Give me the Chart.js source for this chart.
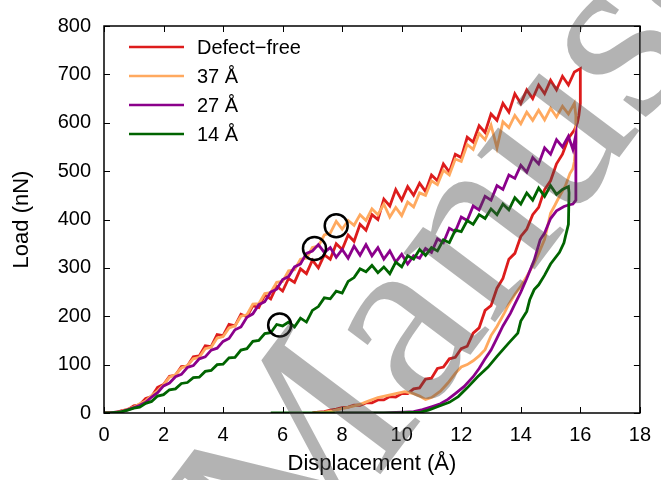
<!DOCTYPE html>
<html>
<head>
<meta charset="utf-8">
<script src="https://cdn.jsdelivr.net/npm/chart.js@4.4.0/dist/chart.umd.min.js"></script>
<style>body{margin:0;background:#fff}</style>
</head>
<body>
<canvas id="chart" width="661" height="480"></canvas>
<script>
// loading branch, common displacement grid (Å)
const xLoad = [0,0.2,0.4,0.6,0.8,1,1.2,1.4,1.6,1.8,2,2.2,2.4,2.6,2.8,3,3.2,3.4,3.6,3.8,4,4.2,4.4,4.6,4.8,5,5.2,5.4,5.6,5.8,6,6.2,6.4,6.6,6.8,7,7.2,7.4,7.6,7.8,8,8.2,8.4,8.6,8.8,9,9.2,9.4,9.6,9.8,10,10.2,10.4,10.6,10.8,11,11.2,11.4,11.6,11.8,12,12.2,12.4,12.6,12.8,13,13.2,13.4,13.6,13.8,14,14.2,14.4,14.6,14.8,15,15.2,15.4,15.6];

const redLoad = [0,1,1,5,7,15,17,30,34,53,59,76,78,96,97,116,118,139,137,162,160,183,180,204,199,222,218,244,236,262,252,278,270,298,288,316,300,327,318,350,338,368,355,390,378,410,400,442,428,462,440,468,450,475,458,492,480,515,498,535,528,570,560,594,580,618,605,640,622,660,640,668,650,678,660,688,668,696,678];
const orangeLoad = [0,0,2,4,8,12,19,25,36,46,58,74,79,93,98,112,115,133,136,155,158,176,180,200,203,225,226,247,249,270,272,294,296,318,320,342,345,368,372,396,380,398,388,410,398,422,410,432,405,425,408,436,426,455,450,480,472,502,492,525,520,555,545,578,565,595,548,602,590,615,598,622,605,626,606,630,612,634,618];
const purpleLoad = [0,0,2,3,7,11,16,22,33,42,56,62,75,80,94,98,112,116,130,134,148,154,172,178,198,205,224,230,250,256,276,282,302,308,330,335,348,332,342,322,338,320,345,326,348,325,342,318,335,312,328,308,325,320,340,332,360,352,382,375,405,398,428,420,448,440,470,462,492,485,512,498,528,515,548,535,565,550,572];
const greenLoad = [0,0,1,3,6,10,12,20,24,35,38,48,50,61,63,73,74,86,88,100,101,114,115,130,133,148,150,164,166,183,180,188,178,196,188,212,220,238,236,252,248,272,280,298,292,305,290,302,288,312,302,325,318,338,326,342,335,358,352,378,375,398,390,410,402,422,410,432,420,445,432,455,440,465,448,470,452,462,468];

// unloading branches
const redUnX = [15.8,16,16,15.95,15.9,15.8,15.6,15.4,15.2,15,14.8,14.6,14.4,14.2,14,13.8,13.6,13.4,13.2,13,12.8,12.6,12.4,12.2,12,11.8,11.6,11.4,11.2,11,10.8,10.6,10.4,10.2,10,9.8,9.6,9.4,9.2,9,8.8,8.6,8.4,8.2,8,7.8,7.6,7.4,7.2,7];
const redUnY = [705,712,640,615,600,585,568,535,515,480,462,425,410,380,365,330,318,278,258,222,212,176,165,138,133,115,112,95,92,72,70,52,50,40,40,33,34,27,27,21,21,16,16,12,11,8,6,3,2,0];
const orangeUnX = [15.8,15.85,15.85,15.8,15.75,15.65,15.5,15.3,15.15,15,14.8,14.6,14.45,14.2,14,13.8,13.6,13.45,13.2,13,12.8,12.6,12.4,12.2,12,11.8,11.55,11.3,11,10.8,10.6,10.4,10.1,9.8,9.5,9.2,8.9,8.6,8.3,8,7.7,7.4,7.1];
const orangeUnY = [640,615,560,520,505,495,470,448,430,413,359,330,310,282,262,245,225,207,179,160,131,118,108,100,95,82,62,45,32,28,35,40,44,40,36,32,25,18,13,9,5,2,0];
const purpleUnX = [15.75,15.85,15.85,15.75,15.6,15.45,15.2,15,14.8,14.65,14.45,14.2,14,13.8,13.65,13.4,13.2,13,12.78,12.6,12.4,12.1,11.8,11.55,11.3,11,10.7,10.4,10.1,9.8,9.4,9,8.6,8.2,7.8];
const purpleUnY = [545,575,440,432,430,427,418,402,372,358,316,278,250,225,206,180,155,130,110,92,75,55,40,28,19,13,7,3,2,1,0,0,0,0,0];
const greenUnX = [15.62,15.6,15.5,15.45,15.3,15,14.8,14.6,14.45,14.3,14.2,14,13.9,13.6,13.2,12.9,12.55,12.2,11.9,11.6,11.2,10.9,10.65,10.3,9.9,9.4,8.8,8,7.2,6.4,5.6];
const greenUnY = [455,390,365,352,332,308,285,265,255,234,210,190,165,145,117,95,75,52,34,22,13,6,2,1,0,0,0,0,0,0,0];

// circled events
const markX = [7.8,7.07,5.9];
const markY = [387,340,182];

const labels = ['Defect\u2212free','37 \u00c5','27 \u00c5','14 \u00c5'];
const colors = ['#dd1c1c','#ffa95f','#8b008b','#006400'];

function pts(xs, ys) { return xs.map((x, i) => ({x: x, y: ys[i]})); }

const series = [
  pts(xLoad, redLoad).concat(pts(redUnX, redUnY)),
  pts(xLoad, orangeLoad).concat(pts(orangeUnX, orangeUnY)),
  pts(xLoad, purpleLoad).concat(pts(purpleUnX, purpleUnY)),
  pts(xLoad, greenLoad).concat(pts(greenUnX, greenUnY))
];

const FONT = '"Liberation Sans", Arial, sans-serif';

// inward ticks + box, like the gnuplot frame
const frame = {
  id: 'frame',
  afterDatasetsDraw(chart) {
    const {ctx, chartArea: a, scales: {x, y}} = chart;
    ctx.save();
    ctx.strokeStyle = '#000';
    ctx.lineWidth = 1;
    ctx.beginPath();
    x.ticks.forEach(t => {
      const px = Math.round(x.getPixelForValue(t.value)) + 0.5;
      ctx.moveTo(px, a.bottom); ctx.lineTo(px, a.bottom - 6);
      ctx.moveTo(px, a.top); ctx.lineTo(px, a.top + 6);
    });
    y.ticks.forEach(t => {
      const py = Math.round(y.getPixelForValue(t.value)) + 0.5;
      ctx.moveTo(a.left, py); ctx.lineTo(a.left + 6, py);
      ctx.moveTo(a.right, py); ctx.lineTo(a.right - 6, py);
    });
    ctx.stroke();
    ctx.lineWidth = 1.5;
    ctx.strokeRect(a.left, a.top, a.right - a.left, a.bottom - a.top);
    ctx.restore();
  }
};

const legendBox = {
  id: 'legendBox',
  afterDatasetsDraw(chart) {
    const ctx = chart.ctx;
    ctx.save();
    ctx.font = '20px ' + FONT;
    ctx.textBaseline = 'middle';
    ctx.fillStyle = '#000';
    labels.forEach((lab, i) => {
      const yy = 47 + i * 29;
      ctx.strokeStyle = colors[i];
      ctx.lineWidth = 2.5;
      ctx.beginPath(); ctx.moveTo(129, yy); ctx.lineTo(184, yy); ctx.stroke();
      ctx.fillText(lab, 197, yy + 1);
    });
    ctx.restore();
  }
};

const watermark = {
  id: 'watermark',
  afterDraw(chart) {
    const ctx = chart.ctx;
    ctx.save();
    ctx.translate(291, 593);
    ctx.rotate(-53 * Math.PI / 180);
    ctx.font = '250px "Liberation Serif", serif';
    ctx.fillStyle = 'rgba(70,70,70,0.41)';
    ctx.fillText('Manuscript', 0, 0);
    ctx.restore();
  }
};

const datasets = series.map((d, i) => ({
  label: labels[i],
  data: d,
  showLine: true,
  borderColor: colors[i],
  borderWidth: 2.8,
  pointRadius: 0,
  order: 4 - i
}));
datasets.push({
  label: '',
  data: pts(markX, markY),
  showLine: false,
  pointRadius: 11.5,
  pointHoverRadius: 11.5,
  borderColor: '#000',
  borderWidth: 2.5,
  backgroundColor: 'rgba(0,0,0,0)',
  order: 0
});

new Chart(document.getElementById('chart').getContext('2d'), {
  type: 'scatter',
  data: { datasets: datasets },
  options: {
    responsive: false,
    animation: false,
    devicePixelRatio: 1,
    layout: { padding: { top: 26, right: 18, left: 0, bottom: 0 } },
    plugins: { legend: { display: false }, tooltip: { enabled: false } },
    scales: {
      x: {
        type: 'linear', min: 0, max: 18,
        afterFit: s => { s.height = 67; },
        grid: { display: false, drawTicks: false },
        border: { display: false },
        ticks: { stepSize: 2, padding: 10, color: '#000', font: { family: FONT, size: 20 } },
        title: { display: true, text: 'Displacement (\u00c5)', color: '#000', padding: { top: 0, bottom: 3 }, font: { family: FONT, size: 22 } }
      },
      y: {
        type: 'linear', min: 0, max: 800,
        afterFit: s => { s.width = 104; },
        grid: { display: false, drawTicks: false },
        border: { display: false },
        ticks: { stepSize: 100, padding: 13, color: '#000', font: { family: FONT, size: 20 } },
        title: { display: true, text: 'Load (nN)', color: '#000', padding: { top: 9, bottom: 0 }, font: { family: FONT, size: 22 } }
      }
    }
  },
  plugins: [frame, legendBox, watermark]
});
</script>
</body>
</html>
